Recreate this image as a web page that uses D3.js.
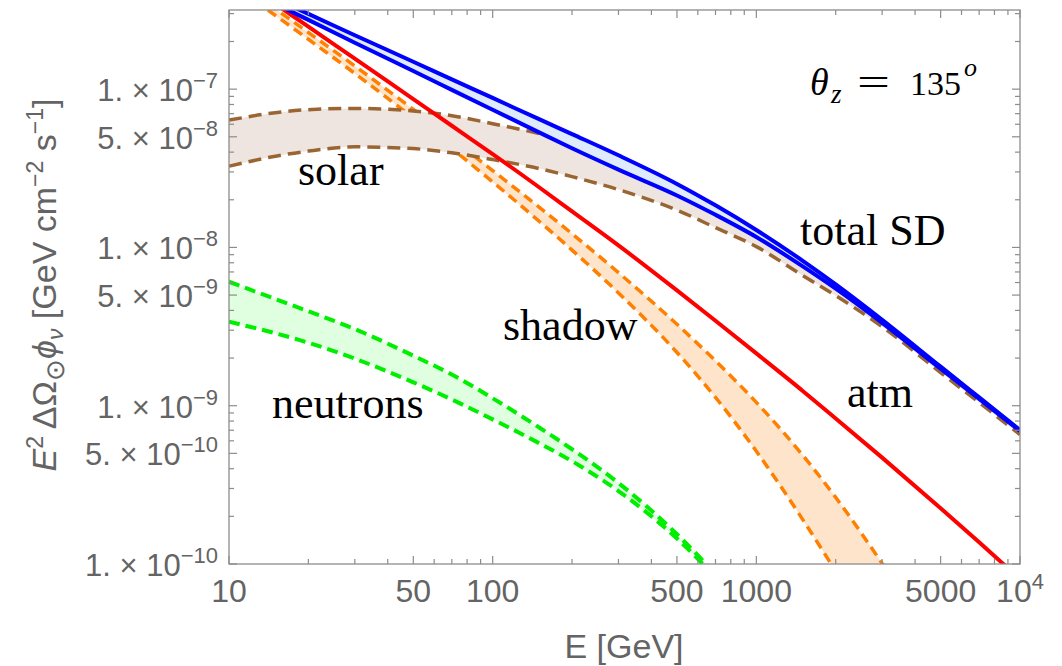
<!DOCTYPE html>
<html>
<head>
<meta charset="utf-8">
<script src="https://cdn.jsdelivr.net/npm/d3@7"></script>
<style>
  html, body { margin: 0; padding: 0; background: #fff; }
  svg { display: block; }
  .tick-label { font-family: "Liberation Sans", Arial, sans-serif; fill: #646464; }
  .axis-title { font-family: "Liberation Sans", Arial, sans-serif; fill: #646464; }
  .curve-label { font-family: "Liberation Serif", "Times New Roman", serif; fill: #000; }
</style>
</head>
<body>
<svg id="chart" width="1062" height="666"></svg>
<script>
// energy grids (GeV)
const E_GRID = [10, 15, 20, 30, 50, 70, 100, 150, 200, 300, 500, 700, 1000, 1500, 2000, 3000, 5000, 7000, 10000];
const E_SHADOW = [10, 15, 20, 30, 50, 70, 100, 150, 200, 300, 500, 700, 1000, 1500, 2000, 3000, 5000];
const E_NEUTRON = [10, 15, 20, 30, 50, 70, 100, 150, 200, 300, 500, 700];

// E^2 dOmega phi  [GeV cm^-2 s^-1]
const TOTAL_HI = [5.05e-7, 3.71e-7, 2.99e-7, 2.19e-7, 1.49e-7, 1.153e-7, 8.80e-8, 6.46e-8, 5.20e-8, 3.82e-8, 2.52e-8, 1.845e-8, 1.289e-8, 8.23e-9, 5.84e-9, 3.49e-9, 1.765e-9, 1.128e-9, 7.02e-10];
const TOTAL_LO = [4.84e-7, 3.46e-7, 2.74e-7, 1.966e-7, 1.301e-7, 9.90e-8, 7.41e-8, 5.33e-8, 4.23e-8, 3.10e-8, 2.13e-8, 1.607e-8, 1.164e-8, 7.59e-9, 5.49e-9, 3.34e-9, 1.714e-9, 1.104e-9, 6.92e-10];
const ATM = [5.49e-7, 3.45e-7, 2.48e-7, 1.56e-7, 8.65e-8, 5.87e-8, 3.89e-8, 2.40e-8, 1.69e-8, 1.03e-8, 5.35e-9, 3.44e-9, 2.14e-9, 1.24e-9, 8.31e-10, 4.70e-10, 2.25e-10, 1.37e-10, 8.04e-11];
const SOLAR_HI = [6.37e-8, 7.10e-8, 7.42e-8, 7.55e-8, 7.28e-8, 6.80e-8, 6.05e-8, 5.24e-8, 4.63e-8, 3.56e-8, 2.32e-8, 1.721e-8, 1.225e-8, 7.90e-9, 5.65e-9, 3.41e-9, 1.739e-9, 1.115e-9, 6.97e-10];
const SOLAR_LO = [3.26e-8, 3.77e-8, 4.06e-8, 4.32e-8, 4.21e-8, 3.96e-8, 3.59e-8, 3.15e-8, 2.80e-8, 2.32e-8, 1.721e-8, 1.334e-8, 1.012e-8, 6.64e-9, 4.96e-9, 3.16e-9, 1.62e-9, 1.047e-9, 6.57e-10];
const SHADOW_HI = [5.18e-7, 3.21e-7, 2.28e-7, 1.401e-7, 7.44e-8, 4.86e-8, 3.06e-8, 1.795e-8, 1.220e-8, 6.93e-9, 3.27e-9, 1.920e-9, 1.050e-9, 4.86e-10, 2.634e-10, 1.007e-10, 2.70e-11];
const SHADOW_LO = [4.75e-7, 2.92e-7, 2.066e-7, 1.257e-7, 6.56e-8, 4.21e-8, 2.594e-8, 1.464e-8, 9.62e-9, 5.16e-9, 2.17e-9, 1.129e-9, 5.16e-10, 1.908e-10, 8.97e-11, 2.93e-11, 6.9e-12];
const NEUTRON_HI = [6.07e-9, 4.72e-9, 3.95e-9, 3.05e-9, 2.07e-9, 1.573e-9, 1.115e-9, 7.29e-10, 5.31e-10, 3.25e-10, 1.542e-10, 8.65e-11];
const NEUTRON_LO = [3.39e-9, 2.87e-9, 2.50e-9, 1.983e-9, 1.406e-9, 1.094e-9, 8.20e-10, 5.80e-10, 4.46e-10, 2.89e-10, 1.449e-10, 8.28e-11];

// tick labels
const X_LABELS = [10, 50, 100, 500, 1000, 5000, 10000];
const Y_LABELS = [1e-10, 5e-10, 1e-9, 5e-9, 1e-8, 5e-8, 1e-7];

const svg = d3.select('#chart');
const L = 229, R = 1020, T = 10, B = 564;

const x = d3.scaleLog().domain([10, 1e4]).range([L, R]);
const y = d3.scaleLog().domain([1e-10, Math.pow(10, -6.5)]).range([B, T]);

svg.append('defs').append('clipPath').attr('id', 'plot-clip')
  .append('rect').attr('x', L).attr('y', T).attr('width', R - L).attr('height', B - T);

const plot = svg.append('g').attr('clip-path', 'url(#plot-clip)');

function zipRows(E, lo, hi){
  return E.map((e, i) => ({ e, lo: lo[i], hi: hi[i] }));
}

const area = d3.area()
  .x(d => x(d.e)).y0(d => y(d.lo)).y1(d => y(d.hi))
  .curve(d3.curveMonotoneX);
const lineOf = key => d3.line().x(d => x(d.e)).y(d => y(d[key])).curve(d3.curveMonotoneX);

function band(E, lo, hi, fill, stroke, dash, width){
  const rows = zipRows(E, lo, hi);
  const g = plot.append('g');
  g.append('path').datum(rows).attr('d', area).attr('fill', fill).attr('stroke', 'none');
  ['lo', 'hi'].forEach(k => {
    g.append('path').datum(rows).attr('d', lineOf(k))
      .attr('fill', 'none').attr('stroke', stroke).attr('stroke-width', width)
      .attr('stroke-dasharray', dash);
  });
}

// drawing order: neutrons, shadow, solar, atm, total
band(E_NEUTRON, NEUTRON_LO, NEUTRON_HI, '#e0ffe0', '#00ee00', '11,6', 4);
band(E_SHADOW, SHADOW_LO, SHADOW_HI, '#ffe4cc', '#ff8000', '10,6', 3.5);
band(E_GRID, SOLAR_LO, SOLAR_HI, '#efe5e0', '#996633', '13,7', 3.5);

plot.append('path')
  .datum(E_GRID.map((e, i) => ({ e, v: ATM[i] })))
  .attr('d', lineOf('v'))
  .attr('fill', 'none').attr('stroke', '#ff0000').attr('stroke-width', 4);

band(E_GRID, TOTAL_LO, TOTAL_HI, '#ddebfc', '#0000ff', null, 4);

// --- frame + ticks ---
const frameColor = '#8c8c8c';
const axes = svg.append('g');
axes.append('rect').attr('x', L).attr('y', T).attr('width', R - L).attr('height', B - T)
  .attr('fill', 'none').attr('stroke', frameColor).attr('stroke-width', 1.3);

function logTicks(lo, hi){
  const out = [];
  for (let p = Math.floor(Math.log10(lo)); p <= Math.ceil(Math.log10(hi)); p++){
    for (let m = 1; m <= 9; m++){
      const v = m * Math.pow(10, p);
      if (v >= lo * 0.999 && v <= hi * 1.001) out.push({ v, major: m === 1 || m === 5 });
    }
  }
  return out;
}

logTicks(10, 1e4).forEach(t => {
  const px = x(t.v), len = t.major ? 8 : 5;
  axes.append('line').attr('x1', px).attr('x2', px).attr('y1', B).attr('y2', B - len)
    .attr('stroke', frameColor).attr('stroke-width', 1.2);
  axes.append('line').attr('x1', px).attr('x2', px).attr('y1', T).attr('y2', T + len)
    .attr('stroke', frameColor).attr('stroke-width', 1.2);
});
logTicks(1e-10, Math.pow(10, -6.5)).forEach(t => {
  const py = y(t.v), len = t.major ? 8 : 5;
  axes.append('line').attr('x1', L).attr('x2', L + len).attr('y1', py).attr('y2', py)
    .attr('stroke', frameColor).attr('stroke-width', 1.2);
  axes.append('line').attr('x1', R).attr('x2', R - len).attr('y1', py).attr('y2', py)
    .attr('stroke', frameColor).attr('stroke-width', 1.2);
});

// x tick labels
X_LABELS.forEach(v => {
  const t = axes.append('text').attr('class', 'tick-label')
    .attr('x', x(v)).attr('y', 602).attr('text-anchor', 'middle').attr('font-size', 32);
  if (v === 10000){
    t.append('tspan').text('10');
    t.append('tspan').attr('dy', -13).attr('font-size', 22).text('4');
  } else {
    t.text(v);
  }
});

// y tick labels: "m. × 10^p"
Y_LABELS.forEach(v => {
  const p = Math.floor(Math.log10(v) + 1e-9);
  const m = Math.round(v / Math.pow(10, p));
  const t = axes.append('text').attr('class', 'tick-label')
    .attr('x', 218).attr('y', y(v) + 12).attr('text-anchor', 'end').attr('font-size', 31);
  t.append('tspan').text(m + '. \u00d7 10');
  t.append('tspan').attr('dy', -13).attr('font-size', 22).text('\u2212' + (-p));
});

// axis titles
axes.append('text').attr('class', 'axis-title')
  .attr('x', 624).attr('y', 658).attr('text-anchor', 'middle').attr('font-size', 34)
  .text('E [GeV]');

const yt = axes.append('text').attr('class', 'axis-title')
  .attr('transform', 'translate(56,285) rotate(-90)')
  .attr('text-anchor', 'middle').attr('font-size', 34);
yt.append('tspan').attr('font-style', 'italic').text('E');
yt.append('tspan').attr('dy', -13).attr('font-size', 23).text('2');
yt.append('tspan').attr('dy', 13).text('\u2009\u0394\u03a9');
yt.append('tspan').attr('dy', 8).attr('font-size', 26).text('\u2299');
yt.append('tspan').attr('dy', -8).attr('font-style', 'italic').text('\u03d5');
yt.append('tspan').attr('dy', 7).attr('font-size', 23).attr('font-style', 'italic').text('\u03bd');
yt.append('tspan').attr('dy', -7).text(' [GeV cm');
yt.append('tspan').attr('dy', -13).attr('font-size', 23).text('\u22122');
yt.append('tspan').attr('dy', 13).text(' s');
yt.append('tspan').attr('dy', -13).attr('font-size', 23).text('\u22121');
yt.append('tspan').attr('dy', 13).text(']');

// curve labels
const labels = [
  { text: 'solar', x: 298, y: 185 },
  { text: 'total SD', x: 800, y: 245 },
  { text: 'shadow', x: 503, y: 340 },
  { text: 'atm', x: 847, y: 407 },
  { text: 'neutrons', x: 272, y: 418 }
];
labels.forEach(d => {
  svg.append('text').attr('class', 'curve-label')
    .attr('x', d.x).attr('y', d.y).attr('font-size', 44).text(d.text);
});

// theta_z = 135^o
const th = svg.append('g').attr('class', 'curve-label');
th.append('text').attr('x', 810).attr('y', 95).attr('font-size', 38).attr('font-style', 'italic').text('\u03b8');
th.append('text').attr('x', 831).attr('y', 103).attr('font-size', 27).attr('font-style', 'italic').text('z');
th.append('text').attr('x', 857).attr('y', 95).attr('font-size', 38)
  .attr('textLength', 33).attr('lengthAdjust', 'spacingAndGlyphs').text('=');
th.append('text').attr('x', 910).attr('y', 95).attr('font-size', 34).text('135');
th.append('text').attr('x', 964).attr('y', 76).attr('font-size', 26).attr('font-style', 'italic').text('o');
</script>
</body>
</html>
